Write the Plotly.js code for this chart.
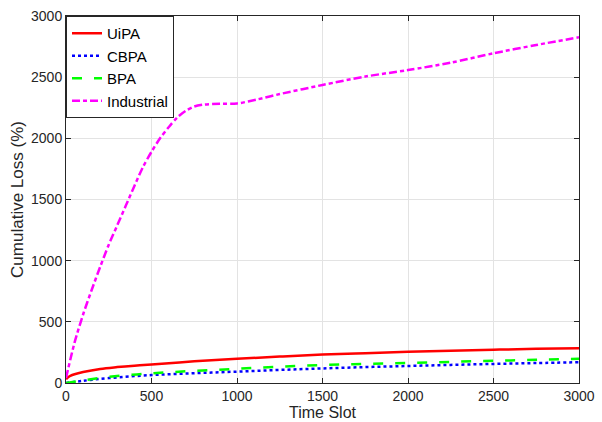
<!DOCTYPE html>
<html>
<head>
<meta charset="utf-8">
<script src="https://cdn.plot.ly/plotly-3.0.1.min.js"></script>
<style>html,body{margin:0;padding:0;background:#fff;}#chart{width:602px;height:422px;}</style>
</head>
<body>
<div id="chart"></div>
<script>
const seriesNames = ["UiPA", "CBPA", "BPA", "Industrial"];

const tUiPA = [0, 10, 25, 50, 100, 200, 300, 400, 500, 750, 1000, 1250, 1500, 1750, 2000, 2250, 2500, 2750, 3000];
const vUiPA = [30, 45, 58, 72, 90, 115, 130, 142, 152, 177, 198, 216, 232, 244, 255, 264, 272, 279, 284];

const tCBPA = [0, 100, 250, 500, 750, 1000, 1250, 1500, 1750, 2000, 2250, 2500, 2750, 3000];
const vCBPA = [0, 18, 40, 65, 80, 93, 107, 119, 130, 139, 148, 156, 163, 170];

const tBPA = [0, 100, 250, 500, 750, 1000, 1250, 1500, 1750, 2000, 2250, 2500, 2750, 3000];
const vBPA = [0, 22, 50, 79, 99, 116, 133, 147, 156, 164, 173, 181, 190, 198];

const tInd = [0, 50, 100, 150, 200, 250, 300, 350, 400, 450, 500, 550, 600, 650, 700, 750, 800, 900, 1000, 1125, 1250, 1500, 1750, 2000, 2250, 2500, 2750, 3000];
const vInd = [40, 330, 560, 760, 950, 1130, 1290, 1450, 1610, 1765, 1890, 2000, 2090, 2170, 2225, 2260, 2275, 2283, 2285, 2320, 2362, 2436, 2505, 2558, 2618, 2695, 2763, 2826];

const xTicks = [0, 500, 1000, 1500, 2000, 2500, 3000];
const yTicks = [0, 500, 1000, 1500, 2000, 2500, 3000];

const traces = [
  {x: tUiPA, y: vUiPA, name: seriesNames[0], mode: "lines", line: {color: "#ff0000", width: 2.5, shape: "spline"}},
  {x: tCBPA, y: vCBPA, name: seriesNames[1], mode: "lines", line: {color: "#0000ff", width: 2.5, dash: "dot", shape: "spline"}},
  {x: tBPA, y: vBPA, name: seriesNames[2], mode: "lines", line: {color: "#00ff00", width: 2.5, dash: "10px,12px", shape: "spline"}},
  {x: tInd, y: vInd, name: seriesNames[3], mode: "lines", line: {color: "#ff00ff", width: 2.5, dash: "8px,3px,4px,3px", shape: "spline", smoothing: 0.8}}
];

const axisCommon = {
  showline: true, mirror: "ticks", linecolor: "#262626", linewidth: 1,
  ticks: "inside", ticklen: 5, tickcolor: "#262626",
  showgrid: true, gridcolor: "#e3e3e3", gridwidth: 1, zeroline: false,
  tickfont: {family: "Liberation Sans, Arial, sans-serif", size: 14, color: "#262626"}
};

const layout = {
  width: 602, height: 422,
  margin: {l: 66, r: 23, t: 16, b: 39},
  paper_bgcolor: "#ffffff", plot_bgcolor: "#ffffff",
  showlegend: true,
  xaxis: Object.assign({}, axisCommon, {
    range: [0, 3000], tickvals: xTicks, ticktext: xTicks.map(String),
    title: {text: "Time Slot", standoff: 2, font: {family: "Liberation Sans, Arial, sans-serif", size: 16, color: "#262626"}}
  }),
  yaxis: Object.assign({}, axisCommon, {
    range: [0, 3000], tickvals: yTicks, ticktext: yTicks.map(String),
    title: {text: "Cumulative Loss (%)", standoff: 3, font: {family: "Liberation Sans, Arial, sans-serif", size: 17, color: "#262626"}}
  }),
  legend: {
    x: 0, y: 1, xanchor: "left", yanchor: "top",
    bgcolor: "#ffffff", bordercolor: "#262626", borderwidth: 1,
    font: {family: "Liberation Sans, Arial, sans-serif", size: 15, color: "#000000"},
    itemwidth: 30, tracegroupgap: 0
  }
};

Plotly.newPlot("chart", traces, layout, {displayModeBar: false, staticPlot: true});
</script>
</body>
</html>
